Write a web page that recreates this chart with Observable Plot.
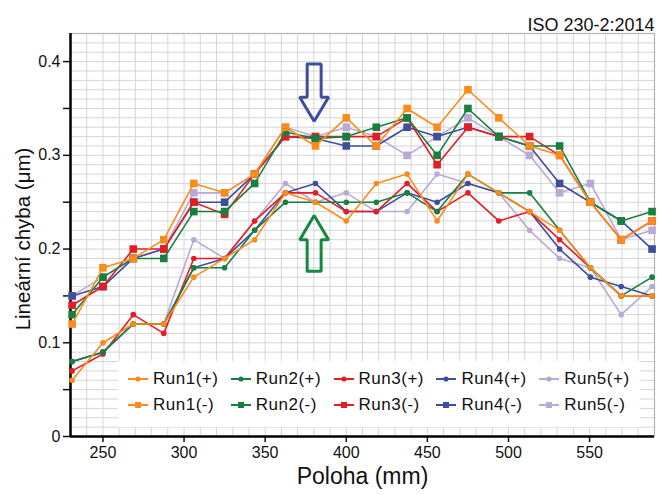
<!DOCTYPE html>
<html><head><meta charset="utf-8">
<script src="https://cdn.jsdelivr.net/npm/d3@7"></script>
<script src="https://cdn.jsdelivr.net/npm/@observablehq/plot@0.6"></script>
<style>
body{margin:0;background:#fff;font-family:"Liberation Sans",Arial,sans-serif;}
#wrap{position:relative;width:661px;height:495px;}
#wrap svg.plot{position:absolute;left:0;top:0;}
#legend{position:absolute;left:118px;top:361px;width:522px;height:66px;background:#fff;}
.item{position:absolute;display:flex;align-items:center;font-size:17px;color:#111;letter-spacing:0.5px;white-space:nowrap;line-height:1;}
.item svg{margin-right:5px;}
</style></head><body><div id="wrap"></div>
<script>
// positions along the axis (mm)
const positions = [231, 250, 268.7, 287.5, 306, 325, 343.5, 362.5, 381, 400, 418.5, 437.5, 456, 475, 494, 513, 531.5, 550.5, 569.5, 588.5];

const seriesNames = ["Run1(+)", "Run2(+)", "Run3(+)", "Run4(+)", "Run5(+)", "Run1(-)", "Run2(-)", "Run3(-)", "Run4(-)", "Run5(-)"];
const seriesColors = ["#fb8c1c", "#18803f", "#e41d24", "#3e4e9e", "#bba9d5", "#fb8c1c", "#18803f", "#e41d24", "#3e4e9e", "#bba9d5"];
const seriesSymbols = ["circle", "circle", "circle", "circle", "circle", "square", "square", "square", "square", "square"];

const run1Plus  = [0.06, 0.10, 0.12, 0.12, 0.17, 0.19, 0.21, 0.26, 0.25, 0.23, 0.27, 0.28, 0.23, 0.28, 0.26, 0.24, 0.22, 0.18, 0.15, 0.15];
const run2Plus  = [0.08, 0.09, 0.12, 0.12, 0.18, 0.18, 0.22, 0.25, 0.25, 0.25, 0.25, 0.26, 0.24, 0.28, 0.26, 0.26, 0.22, 0.18, 0.15, 0.17];
const run3Plus  = [0.07, 0.088, 0.13, 0.11, 0.19, 0.19, 0.23, 0.26, 0.26, 0.24, 0.24, 0.27, 0.24, 0.26, 0.23, 0.24, 0.21, 0.18, 0.15, 0.15];
const run4Plus  = [0.08, 0.09, 0.12, 0.12, 0.18, 0.19, 0.22, 0.26, 0.27, 0.24, 0.24, 0.26, 0.25, 0.27, 0.26, 0.24, 0.20, 0.17, 0.16, 0.15];
const run5Plus  = [0.08, 0.09, 0.12, 0.12, 0.21, 0.19, 0.23, 0.27, 0.25, 0.26, 0.24, 0.24, 0.28, 0.27, 0.26, 0.22, 0.19, 0.18, 0.13, 0.16];
const run1Minus = [0.12, 0.18, 0.19, 0.21, 0.27, 0.26, 0.28, 0.33, 0.31, 0.34, 0.31, 0.35, 0.33, 0.37, 0.34, 0.31, 0.30, 0.25, 0.21, 0.23];
const run2Minus = [0.13, 0.17, 0.19, 0.19, 0.24, 0.24, 0.27, 0.325, 0.318, 0.32, 0.33, 0.34, 0.30, 0.35, 0.32, 0.31, 0.31, 0.25, 0.23, 0.24];
const run3Minus = [0.14, 0.16, 0.20, 0.20, 0.25, 0.237, 0.28, 0.32, 0.32, 0.32, 0.32, 0.34, 0.29, 0.33, 0.32, 0.32, 0.30, 0.25, 0.21, 0.23];
const run4Minus = [0.15, 0.16, 0.19, 0.20, 0.25, 0.25, 0.28, 0.32, 0.318, 0.31, 0.31, 0.33, 0.32, 0.33, 0.32, 0.31, 0.27, 0.25, 0.23, 0.20];
const run5Minus = [0.15, 0.17, 0.19, 0.20, 0.26, 0.26, 0.28, 0.33, 0.32, 0.33, 0.32, 0.30, 0.32, 0.34, 0.32, 0.30, 0.26, 0.27, 0.21, 0.22];

const seriesValues = [run1Plus, run2Plus, run3Plus, run4Plus, run5Plus, run1Minus, run2Minus, run3Minus, run4Minus, run5Minus];

const xTicks = [250, 300, 350, 400, 450, 500, 550];
const yTicks = [0, 0.05, 0.1, 0.15, 0.2, 0.25, 0.3, 0.35, 0.4];
const yTickLabels = ["0", "", "0.1", "", "0.2", "", "0.3", "", "0.4"];
const xGrid = d3.range(230, 591, 10);
const yGrid = d3.range(0, 0.4301, 0.01);

const xTitle = "Poloha (mm)";
const yTitle = "Lineární chyba (μm)";
const topNote = "ISO 230-2:2014";

// annotation arrows (block arrow outlines, in data units)
const arrowDown = {cx: 380.2, top: 0.3975, base: 0.362, tip: 0.3363, color: "#3e4e9e"};
const arrowUp = {cx: 380.2, top: 0.1763, base: 0.2098, tip: 0.2357, color: "#17883f"};
const shaftHalf = 4.3, headHalf = 8.9;

function arrowPolygon(a) {
  return [
    {x: a.cx - shaftHalf, y: a.top}, {x: a.cx + shaftHalf, y: a.top},
    {x: a.cx + shaftHalf, y: a.base}, {x: a.cx + headHalf, y: a.base},
    {x: a.cx, y: a.tip}, {x: a.cx - headHalf, y: a.base},
    {x: a.cx - shaftHalf, y: a.base}, {x: a.cx - shaftHalf, y: a.top}
  ];
}

const series = seriesNames.map((name, k) => ({
  name, color: seriesColors[k], symbol: seriesSymbols[k],
  rows: positions.map((x, i) => ({x, y: seriesValues[k][i]}))
}));

// draw order: Run5 first, Run1 last
const drawOrder = [4, 9, 3, 8, 2, 7, 1, 6, 0, 5];
const seriesMarks = [];
for (const k of drawOrder) {
  const s = series[k];
  seriesMarks.push(Plot.line(s.rows, {x: "x", y: "y", stroke: s.color, strokeWidth: 1.6}));
  seriesMarks.push(Plot.dot(s.rows, {x: "x", y: "y", fill: s.color, stroke: "none", symbol: s.symbol, r: s.symbol === "square" ? 4.3 : 2.8}));
}

const chart = Plot.plot({
  width: 661, height: 495,
  marginTop: 33, marginLeft: 70, marginRight: 7, marginBottom: 59,
  x: {domain: [230, 590]},
  y: {domain: [0, 0.43]},
  style: {fontFamily: "'Liberation Sans', Arial, sans-serif", background: "white", color: "#111"},
  marks: [
    Plot.gridX(xGrid, {stroke: "#d6d6d6", strokeOpacity: 1, strokeWidth: 1}),
    Plot.gridY(yGrid, {stroke: "#d6d6d6", strokeOpacity: 1, strokeWidth: 1}),
    Plot.frame({stroke: "#b3b3b3", strokeWidth: 1.2}),
    Plot.axisX({ticks: xTicks, tickSize: 6, tickPadding: 4, fontSize: 16, label: null, strokeWidth: 1.5}),
    Plot.axisY({ticks: yTicks, tickSize: 7, tickPadding: 3, fontSize: 16, label: null, strokeWidth: 1.5,
      tickFormat: (d) => yTickLabels[yTicks.findIndex(t => Math.abs(t - d) < 1e-9)]}),
    Plot.ruleX([230], {stroke: "black", strokeWidth: 2.5}),
    Plot.ruleY([0], {stroke: "black", strokeWidth: 2.5}),
    Plot.line(arrowPolygon(arrowDown), {x: "x", y: "y", stroke: arrowDown.color, strokeWidth: 3, strokeLinejoin: "miter"}),
    Plot.line(arrowPolygon(arrowUp), {x: "x", y: "y", stroke: arrowUp.color, strokeWidth: 3, strokeLinejoin: "miter"}),
    ...seriesMarks,
    Plot.text([xTitle], {frameAnchor: "bottom", dy: 47, fontSize: 23, fill: "#111"}),
    Plot.text([yTitle], {frameAnchor: "left", textAnchor: "middle", rotate: -90, dx: -47, dy: 4, fontSize: 20.5, fill: "#111"}),
    Plot.text([topNote], {frameAnchor: "top-right", textAnchor: "end", dy: -15, fontSize: 18, fill: "#111"})
  ]
});
chart.classList.add("plot");
const wrap = document.getElementById("wrap");
wrap.appendChild(chart);

// legend
const legend = document.createElement("div");
legend.id = "legend";
const legendOrder = [0, 1, 2, 3, 4, 5, 6, 7, 8, 9];
legendOrder.forEach((k, j) => {
  const s = series[k];
  const col = j % 5, row = Math.floor(j / 5);
  const item = document.createElement("div");
  item.className = "item";
  item.style.left = (10 + col * 102.8) + "px";
  item.style.top = (row === 0 ? 9 : 35) + "px";
  const marker = s.symbol === "square"
    ? `<rect x="7" y="3" width="6" height="6" fill="${s.color}"/>`
    : `<circle cx="10" cy="6" r="2.6" fill="${s.color}"/>`;
  item.innerHTML = `<svg width="20" height="12" viewBox="0 0 20 12"><line x1="0" y1="6" x2="20" y2="6" stroke="${s.color}" stroke-width="2"/>${marker}</svg><span>${s.name}</span>`;
  legend.appendChild(item);
});
wrap.appendChild(legend);
</script>
</body></html>
